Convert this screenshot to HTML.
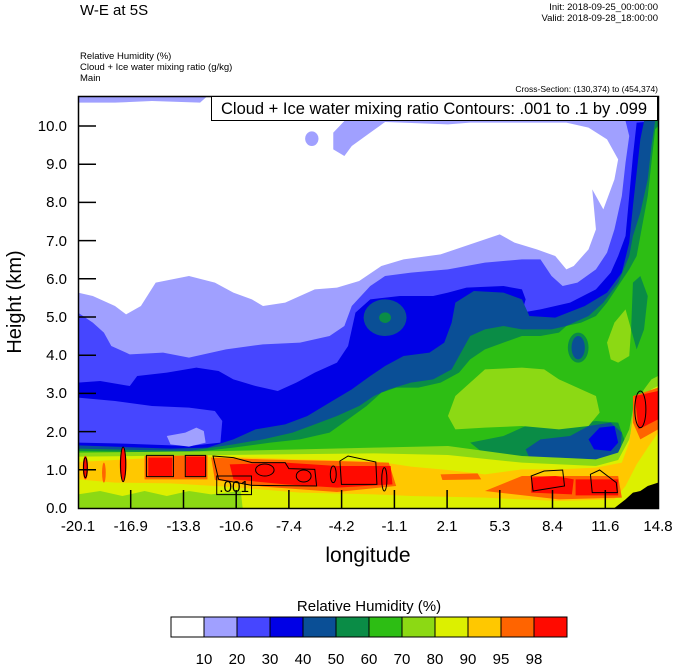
<!DOCTYPE html>
<html><head><meta charset="utf-8"><style>
html,body{margin:0;padding:0;background:#fff;}
svg{display:block;font-family:"Liberation Sans",Arial,sans-serif;}
</style></head><body>
<svg width="674" height="667" viewBox="0 0 674 667" xmlns="http://www.w3.org/2000/svg">
<text x="80" y="15" font-size="15">W-E at 5S</text>
<text x="658" y="10" font-size="9.5" text-anchor="end">Init: 2018-09-25_00:00:00</text>
<text x="658" y="21" font-size="9.5" text-anchor="end">Valid: 2018-09-28_18:00:00</text>
<text x="80" y="59" font-size="9.5">Relative Humidity   (%)</text>
<text x="80" y="70" font-size="9.5">Cloud + Ice water mixing ratio   (g/kg)</text>
<text x="80" y="81" font-size="9.5">Main</text>
<text x="658" y="92" font-size="8.5" text-anchor="end">Cross-Section: (130,374) to (454,374)</text>
<defs><clipPath id="pc"><rect x="0" y="0" width="1568" height="1236"/></clipPath></defs>
<g transform="translate(78,96) scale(0.36996,0.33333)" clip-path="url(#pc)">
<rect x="0" y="0" width="1568" height="1236" fill="#fff"/>
<!-- lavender -->
<path fill="#a0a0ff" d="M0,1236 L0,590 L40,600 L100,630 L130,655 L170,630 L210,560 L300,540 L370,560 L420,590 L470,610 L500,630 L560,620 L640,580 L700,575 L760,555 L820,510 L880,490 L980,475 L1100,430 L1140,415 L1180,440 L1240,460 L1290,480 L1320,520 L1340,510 L1380,460 L1400,400 L1390,280 L1420,340 L1450,250 L1460,190 L1430,130 L1380,95 L1320,80 L1060,80 L1000,85 L830,78 L790,110 L740,150 L720,180 L690,160 L690,110 L720,75 L1470,72 L1470,0 L1568,0 L1568,1236 Z"/>
<path fill="#a0a0ff" d="M0,0 L350,0 L330,20 L200,15 L100,20 L0,20 Z"/>
<ellipse cx="632" cy="128" rx="18" ry="22" fill="#a0a0ff"/>
<!-- blue 30 -->
<path fill="#4646ff" d="M0,1236 L0,650 L40,680 L70,710 L90,750 L140,775 L230,770 L300,785 L400,760 L500,745 L600,740 L680,720 L720,690 L740,630 L790,570 L830,540 L900,530 L1000,520 L1100,500 L1200,490 L1250,490 L1280,540 L1310,570 L1350,560 L1400,520 L1430,470 L1450,400 L1470,300 L1480,200 L1490,120 L1480,75 L1568,75 L1568,1236 Z"/>
<!-- blue 40 -->
<path fill="#0000e6" d="M0,1236 L0,860 L60,855 L140,870 L160,840 L240,830 L320,815 L380,825 L420,850 L480,870 L540,885 L590,860 L640,830 L700,800 L730,750 L740,700 L750,650 L790,610 L870,600 L960,600 L1000,590 L1050,575 L1150,570 L1200,580 L1210,610 L1200,650 L1250,640 L1330,620 L1400,580 L1440,530 L1460,480 L1480,420 L1490,300 L1500,180 L1510,80 L1568,75 L1568,1236 Z"/>
<path fill="#4646ff" d="M0,905 L100,915 L200,930 L300,935 L370,945 L390,975 L385,1040 L300,1050 L100,1042 L0,1040 Z"/>
<path fill="#a0a0ff" d="M240,1020 L290,1010 L320,995 L340,1005 L345,1040 L300,1052 L250,1045 Z"/>
<!-- teal 50 -->
<path fill="#0a4f96" d="M0,1236 L0,1048 L250,1058 L350,1055 L420,1030 L480,1000 L560,985 L620,960 L680,920 L740,880 L790,840 L830,810 L880,780 L950,770 L990,740 L1010,680 L1020,620 L1070,585 L1150,590 L1200,610 L1220,660 L1290,665 L1370,630 L1430,590 L1470,530 L1490,440 L1500,330 L1510,230 L1520,130 L1530,75 L1568,75 L1568,1236 Z"/>
<ellipse cx="830" cy="665" rx="58" ry="55" fill="#0a4f96"/>
<ellipse cx="830" cy="665" rx="16" ry="16" fill="#0a8c46"/>
<!-- green 60 -->
<path fill="#0a8c46" d="M0,1236 L0,1058 L300,1065 L420,1045 L500,1030 L580,1010 L640,985 L700,960 L760,930 L800,900 L840,880 L900,860 L960,850 L1010,820 L1040,760 L1060,720 L1100,700 L1150,690 L1200,700 L1280,700 L1320,690 L1380,660 L1420,620 L1460,560 L1490,480 L1500,420 L1520,350 L1540,250 L1550,150 L1560,75 L1568,75 L1568,1236 Z"/>
<!-- green 70 -->
<path fill="#2dbe14" d="M0,1236 L0,1065 L300,1070 L420,1055 L520,1040 L600,1030 L680,1010 L730,970 L780,930 L820,890 L860,875 L920,875 L980,860 L1030,830 L1060,790 L1100,760 L1150,740 L1200,720 L1250,720 L1300,710 L1320,690 L1360,680 L1400,660 L1430,620 L1460,570 L1490,520 L1510,480 L1520,420 L1540,300 L1550,200 L1560,100 L1568,90 L1568,1236 Z"/>
<ellipse cx="1352" cy="755" rx="28" ry="45" fill="#0a8c46"/>
<ellipse cx="1352" cy="755" rx="18" ry="35" fill="#0a4f96"/>
<path fill="#0a8c46" d="M1500,560 L1520,540 L1540,600 L1530,700 L1510,760 L1495,700 Z"/>
<path fill="#0a8c46" d="M1060,1040 L1150,1020 L1210,990 L1330,985 L1400,975 L1460,980 L1480,1040 L1470,1095 L1350,1100 L1200,1090 L1100,1075 Z"/>
<path fill="#0a4f96" d="M1210,1060 L1250,1030 L1330,1020 L1380,990 L1440,980 L1470,1010 L1465,1080 L1400,1090 L1300,1085 L1220,1085 Z"/>
<path fill="#0000e6" d="M1380,1030 L1410,995 L1450,990 L1460,1040 L1440,1065 L1395,1060 Z"/>
<!-- light green 80 -->
<path fill="#8cd914" d="M1000,960 L1020,900 L1070,850 L1100,820 L1200,815 L1260,820 L1300,850 L1360,880 L1400,900 L1410,950 L1380,990 L1300,1000 L1200,990 L1100,995 L1020,1000 Z"/>
<path fill="#8cd914" d="M1430,740 L1450,680 L1480,640 L1495,700 L1490,780 L1460,800 L1440,790 Z"/>
<path fill="#8cd914" d="M0,1236 L0,1070 L400,1065 L600,1060 L800,1055 L1000,1050 L1200,1080 L1400,1090 L1460,1070 L1490,1000 L1500,940 L1530,880 L1550,850 L1568,840 L1568,1236 Z"/>
<!-- yellow 90 -->
<path fill="#dcf000" d="M0,1236 L0,1082 L400,1077 L800,1072 L1000,1077 L1200,1100 L1400,1110 L1460,1092 L1490,1030 L1500,980 L1520,910 L1550,880 L1568,870 L1568,1236 Z"/>
<path fill="#8cd914" d="M0,1236 L0,1195 L60,1185 L120,1200 L180,1185 L240,1200 L300,1185 L360,1195 L440,1185 L445,1236 Z"/>
<!-- orange 95 -->
<path fill="#ffc800" d="M0,1098 L100,1092 L200,1086 L400,1082 L600,1090 L800,1095 L900,1112 L1000,1122 L1100,1135 L1200,1120 L1300,1120 L1400,1115 L1470,1100 L1490,1040 L1500,960 L1520,900 L1568,880 L1568,1010 L1540,1055 L1510,1105 L1480,1170 L1450,1210 L1300,1215 L1100,1205 L900,1200 L800,1195 L600,1190 L400,1172 L250,1162 L100,1160 L0,1150 Z"/>
<!-- orange 98 -->
<path fill="#ff6400" d="M360,1085 L500,1090 L700,1095 L840,1100 L860,1170 L700,1188 L500,1172 L370,1152 Z"/>
<path fill="#ff6400" d="M1100,1185 L1200,1140 L1460,1140 L1470,1205 L1300,1210 Z"/>
<path fill="#ff6400" d="M1500,900 L1568,875 L1568,1000 L1520,1030 L1500,980 Z"/>
<path fill="#ff6400" d="M180,1080 L350,1078 L350,1150 L180,1150 Z"/>
<path fill="#ff6400" d="M980,1135 L1080,1132 L1090,1150 L985,1152 Z"/>
<!-- red -->
<path fill="#ff0a00" d="M410,1105 L560,1100 L700,1110 L845,1110 L850,1165 L700,1175 L560,1165 L420,1150 Z"/>
<path fill="#ff0a00" d="M1225,1145 L1290,1140 L1340,1150 L1335,1195 L1225,1190 Z"/>
<path fill="#ff0a00" d="M1345,1150 L1460,1150 L1460,1198 L1345,1198 Z"/>
<path fill="#ff0a00" d="M1505,900 L1568,885 L1568,970 L1515,1000 Z"/>
<path fill="#ff0a00" d="M190,1085 L255,1085 L255,1140 L190,1140 Z"/>
<path fill="#ff0a00" d="M292,1082 L345,1082 L345,1140 L292,1140 Z"/>
<ellipse cx="20" cy="1115" rx="7" ry="35" fill="#ff0a00"/>
<ellipse cx="122" cy="1105" rx="9" ry="50" fill="#ff0a00"/>
<ellipse cx="70" cy="1130" rx="5" ry="30" fill="#ff6400"/>
<!-- ground -->
<path fill="#000" d="M1450,1236 L1480,1210 L1500,1190 L1520,1185 L1540,1170 L1568,1160 L1568,1236 Z"/>
<!-- contours -->
<g fill="none" stroke="#000" stroke-width="1" vector-effect="non-scaling-stroke">
<path vector-effect="non-scaling-stroke" d="M185,1078 L258,1078 L258,1142 L185,1142 Z"/>
<path vector-effect="non-scaling-stroke" d="M290,1078 L345,1078 L345,1142 L290,1142 Z"/>
<path vector-effect="non-scaling-stroke" d="M365,1080 L420,1085 L470,1100 L560,1100 L570,1118 L640,1120 L645,1170 L470,1168 L380,1150 Z"/>
<path vector-effect="non-scaling-stroke" d="M708,1095 L730,1080 L805,1098 L808,1165 L712,1165 Z"/>
<path vector-effect="non-scaling-stroke" d="M1225,1140 L1260,1125 L1310,1122 L1315,1170 L1230,1185 Z"/>
<path vector-effect="non-scaling-stroke" d="M1385,1135 L1410,1122 L1455,1160 L1458,1190 L1390,1190 Z"/>
<ellipse vector-effect="non-scaling-stroke" cx="20" cy="1115" rx="5" ry="30"/>
<ellipse vector-effect="non-scaling-stroke" cx="122" cy="1105" rx="7" ry="52"/>
<ellipse vector-effect="non-scaling-stroke" cx="505" cy="1122" rx="25" ry="18"/>
<ellipse vector-effect="non-scaling-stroke" cx="610" cy="1140" rx="20" ry="18"/>
<ellipse vector-effect="non-scaling-stroke" cx="690" cy="1135" rx="8" ry="25"/>
<ellipse vector-effect="non-scaling-stroke" cx="828" cy="1150" rx="7" ry="35"/>
<ellipse vector-effect="non-scaling-stroke" cx="1520" cy="940" rx="15" ry="55"/>
</g>
<rect x="375" y="1140" width="94" height="56" fill="none" stroke="#000" stroke-width="1" vector-effect="non-scaling-stroke"/>
<text x="422" y="1188" font-size="46" text-anchor="middle" transform="translate(422,0) scale(0.9,1) translate(-422,0)">.001</text>
</g>
<!-- frame -->
<rect x="78.5" y="96.5" width="580" height="412" fill="none" stroke="#000" stroke-width="1.5"/>
<!-- legend box -->
<rect x="211.5" y="96.5" width="446" height="24" fill="#fff" stroke="#000" stroke-width="1"/>
<text x="434" y="114" font-size="16.5" text-anchor="middle">Cloud + Ice water mixing ratio Contours: .001 to .1 by .099</text>
<!-- y ticks -->
<g stroke="#000" stroke-width="1.5">
<line x1="78" y1="126" x2="96" y2="126"/><line x1="78" y1="164.2" x2="96" y2="164.2"/>
<line x1="78" y1="202.4" x2="96" y2="202.4"/><line x1="78" y1="240.6" x2="96" y2="240.6"/>
<line x1="78" y1="278.8" x2="96" y2="278.8"/><line x1="78" y1="317" x2="96" y2="317"/>
<line x1="78" y1="355.2" x2="96" y2="355.2"/><line x1="78" y1="393.4" x2="96" y2="393.4"/>
<line x1="78" y1="431.6" x2="96" y2="431.6"/><line x1="78" y1="469.8" x2="96" y2="469.8"/>
<line x1="130.7" y1="508" x2="130.7" y2="490"/><line x1="183.5" y1="508" x2="183.5" y2="490"/>
<line x1="236.2" y1="508" x2="236.2" y2="490"/><line x1="288.9" y1="508" x2="288.9" y2="490"/>
<line x1="341.6" y1="508" x2="341.6" y2="490"/><line x1="394.4" y1="508" x2="394.4" y2="490"/>
<line x1="447.1" y1="508" x2="447.1" y2="490"/><line x1="499.8" y1="508" x2="499.8" y2="490"/>
<line x1="552.5" y1="508" x2="552.5" y2="490"/><line x1="605.3" y1="508" x2="605.3" y2="490"/>
</g>
<g font-size="15" text-anchor="end">
<text x="67" y="131">10.0</text><text x="67" y="169">9.0</text><text x="67" y="207">8.0</text>
<text x="67" y="246">7.0</text><text x="67" y="284">6.0</text><text x="67" y="322">5.0</text>
<text x="67" y="360">4.0</text><text x="67" y="398">3.0</text><text x="67" y="437">2.0</text>
<text x="67" y="475">1.0</text><text x="67" y="513">0.0</text>
</g>
<g font-size="15" text-anchor="middle">
<text x="78" y="531">-20.1</text><text x="130.7" y="531">-16.9</text><text x="183.5" y="531">-13.8</text>
<text x="236.2" y="531">-10.6</text><text x="288.9" y="531">-7.4</text><text x="341.6" y="531">-4.2</text>
<text x="394.4" y="531">-1.1</text><text x="447.1" y="531">2.1</text><text x="499.8" y="531">5.3</text>
<text x="552.5" y="531">8.4</text><text x="605.3" y="531">11.6</text><text x="658" y="531">14.8</text>
</g>
<text x="368" y="562" font-size="21" text-anchor="middle">longitude</text>
<text transform="translate(21,302) rotate(-90)" font-size="20" text-anchor="middle">Height (km)</text>
<!-- colorbar -->
<text x="369" y="611" font-size="15" text-anchor="middle">Relative Humidity  (%)</text>
<g stroke="#000" stroke-width="1">
<rect x="171" y="617" width="33" height="20" fill="#ffffff"/>
<rect x="204" y="617" width="33" height="20" fill="#a0a0ff"/>
<rect x="237" y="617" width="33" height="20" fill="#4646ff"/>
<rect x="270" y="617" width="33" height="20" fill="#0000e6"/>
<rect x="303" y="617" width="33" height="20" fill="#0a4f96"/>
<rect x="336" y="617" width="33" height="20" fill="#0a8c46"/>
<rect x="369" y="617" width="33" height="20" fill="#2dbe14"/>
<rect x="402" y="617" width="33" height="20" fill="#8cd914"/>
<rect x="435" y="617" width="33" height="20" fill="#dcf000"/>
<rect x="468" y="617" width="33" height="20" fill="#ffc800"/>
<rect x="501" y="617" width="33" height="20" fill="#ff6400"/>
<rect x="534" y="617" width="33" height="20" fill="#ff0a00"/>
</g>
<g font-size="15" text-anchor="middle">
<text x="204" y="664">10</text><text x="237" y="664">20</text><text x="270" y="664">30</text>
<text x="303" y="664">40</text><text x="336" y="664">50</text><text x="369" y="664">60</text>
<text x="402" y="664">70</text><text x="435" y="664">80</text><text x="468" y="664">90</text>
<text x="501" y="664">95</text><text x="534" y="664">98</text>
</g>
</svg>
</body></html>
